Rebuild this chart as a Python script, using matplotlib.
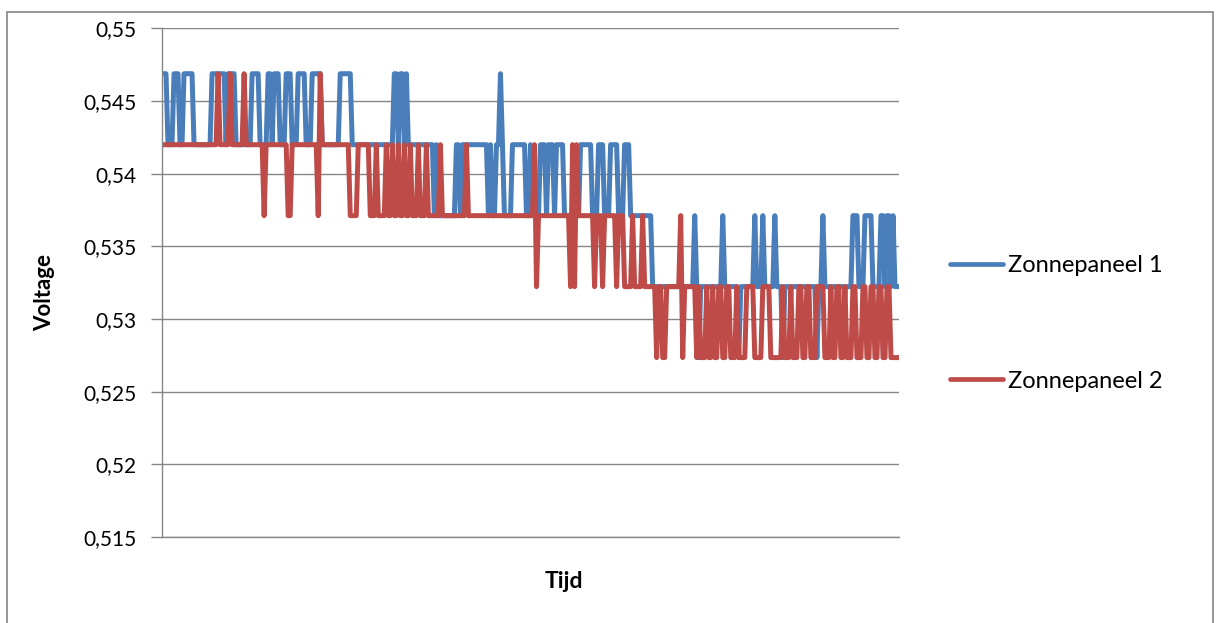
import matplotlib
matplotlib.use("Agg")
import matplotlib.pyplot as plt
import numpy as np
from matplotlib.patches import Rectangle
from matplotlib.ticker import FixedLocator, FuncFormatter

# ---- data (quantised ADC voltage levels) ----
LEVELS = [0.546875, 0.541992, 0.537109, 0.532227, 0.527344]

# run-length description of each series: (level index, number of samples)
blue_runs = [(0,3),(1,3),(0,3),(1,2),(0,5),(1,9),(0,7),(1,1),(0,4),(1,8),(0,4),(1,4),(0,2),(1,1),
             (0,3),(1,3),(0,3),(1,3),(0,4),(1,3),(0,5),(1,9),(0,6),(1,21),(0,2),(1,1),(0,2),(1,1),
             (0,1),(1,13),(2,1),(1,1),(2,9),(1,2),(2,1),(1,13),(2,1),(1,1),(2,2),(1,2),(0,1),(1,1),
             (2,4),(1,7),(2,2),(1,1),(2,4),(1,3),(2,1),(1,3),(2,1),(1,4),(2,8),(1,6),(2,3),(1,3),
             (2,3),(1,4),(2,3),(1,3),(2,11),(3,21),(2,1),(3,1),(4,1),(3,11),(2,1),(3,7),(4,1),(3,7),
             (2,1),(3,3),(2,1),(3,5),(2,1),(3,3),(4,1),(3,16),(4,1),(3,2),(2,1),(3,14),(2,3),(3,3),
             (2,4),(3,4),(2,2),(3,1),(2,2),(3,1),(2,1),(3,3)]

red_runs = [(1,28),(0,1),(1,5),(0,1),(1,6),(0,1),(1,9),(2,1),(1,11),(2,2),(1,13),(2,1),(0,1),(1,14),
            (2,4),(1,6),(2,3),(1,1),(2,4),(1,1),(2,2),(1,1),(2,2),(1,1),(2,2),(1,1),(2,2),(1,1),
            (2,3),(1,1),(2,3),(1,1),(2,6),(1,1),(2,12),(1,1),(2,33),(1,1),(3,1),(2,16),(3,1),(1,1),
            (3,1),(1,1),(2,8),(3,1),(2,3),(3,1),(2,6),(3,1),(2,3),(3,4),(2,1),(3,4),(2,1),(3,6),
            (4,1),(3,2),(4,2),(3,7),(2,1),(4,1),(3,6),(4,1),(3,1),(4,3),(3,1),(4,2),(3,1),
            (4,2),(3,2),(4,2),(3,2),(4,3),(3,1),(4,4),(3,4),(4,4),(3,4),(4,6),(3,1),(4,3),(3,1),
            (4,3),(3,2),(4,2),(3,2),(4,3),(3,4),(4,3),(3,1),(4,2),(3,2),(4,2),(3,1),(4,3),(3,2),
            (4,3),(3,2),(4,2),(3,2),(4,2),(3,2),(4,2),(3,2),(4,5)]

series_names = ["Zonnepaneel 1", "Zonnepaneel 2"]
y_ticks = [0.515, 0.52, 0.525, 0.53, 0.535, 0.54, 0.545, 0.55]
x_label = "Tijd"
y_label = "Voltage"

def expand(runs):
    out = []
    for lvl, n in runs:
        out.extend([LEVELS[lvl]] * n)
    return np.array(out)

blue = expand(blue_runs)
red = expand(red_runs)

# ---- figure ----
W, H = 1221, 623
plt.rcParams["font.family"] = ["Lato", "DejaVu Sans"]
fig = plt.figure(figsize=(W / 100, H / 100), dpi=100)

GRID = "#868686"
BLUE = "#4A7EBB"
RED = "#BE4B48"

ax = fig.add_axes([162 / W, 1 - 537 / H, (899 - 162) / W, (537 - 28.3) / H])

kw = dict(lw=3.6, solid_joinstyle="round", solid_capstyle="round")
ax.plot(np.arange(len(blue)), blue, color=BLUE, label=series_names[0], **kw)
ax.plot(np.arange(len(red)), red, color=RED, label=series_names[1], **kw)

ax.set_xlim(0, max(len(blue), len(red)) - 1)
ax.set_ylim(0.515, 0.55)
ax.yaxis.set_major_locator(FixedLocator(y_ticks))
ax.yaxis.set_major_formatter(FuncFormatter(lambda v, p: ("%g" % round(v, 3)).replace(".", ",")))
ax.set_xticks([])
ax.grid(axis="y", color=GRID, lw=1.0)
ax.set_axisbelow(True)
for s in ["top", "right"]:
    ax.spines[s].set_visible(False)
for s in ["left", "bottom"]:
    ax.spines[s].set_color(GRID)
    ax.spines[s].set_linewidth(1.0)
ax.tick_params(axis="y", direction="out", length=8, width=1.0, color=GRID,
               labelsize=15, pad=10, labelcolor="#000000")

fig.text(45 / W, 1 - 293 / H, y_label, rotation=90, ha="center", va="center",
         fontsize=16, fontweight="bold")
fig.text(564 / W, 1 - 582 / H, x_label, ha="center", va="center",
         fontsize=16.5, fontweight="bold")

leg = ax.legend(loc="center left", bbox_to_anchor=(950 / W, 1 - 323.5 / H),
                bbox_transform=fig.transFigure, frameon=False, fontsize=17,
                handlelength=2.25, handletextpad=0.2, labelspacing=4.0,
                borderpad=0, borderaxespad=0)
for l in leg.get_lines():
    l.set_linewidth(3.4)

fig.add_artist(Rectangle((7 / W, -0.1), (1213 - 7) / W, (1 - 12 / H) + 0.1,
                         transform=fig.transFigure, fill=False, edgecolor=GRID, lw=1.2))

fig.savefig("out.png", dpi=100, facecolor="white")
